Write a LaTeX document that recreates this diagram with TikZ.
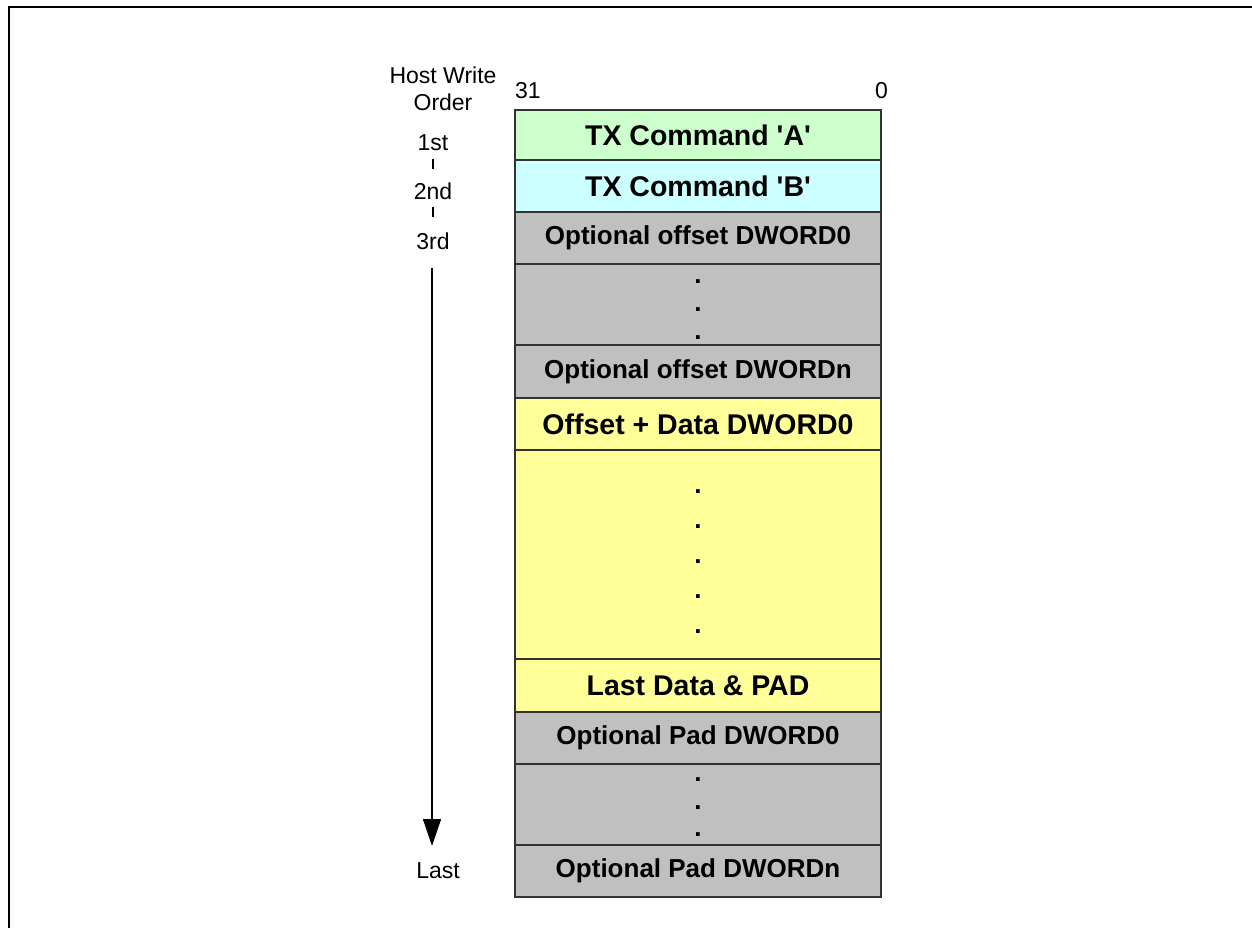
\documentclass[tikz,border=0pt]{standalone}
\usepackage{fontspec}
\setmainfont{Liberation Sans}
\usetikzlibrary{arrows.meta}
\definecolor{cmdA}{HTML}{CCFFCC}
\definecolor{cmdB}{HTML}{CCFFFF}
\definecolor{opt}{HTML}{C0C0C0}
\definecolor{data}{HTML}{FFFF99}
\tikzstyle{dword}=[draw=black!80, line width=1.5pt, minimum width=366pt, inner sep=0pt, font=\bfseries\fontsize{26}{30}\selectfont]
\tikzstyle{big}=[font=\bfseries\fontsize{28.5}{33}\selectfont]
\tikzstyle{order}=[anchor=base, inner sep=0pt, font=\fontsize{23}{27}\selectfont]
\tikzstyle{dot}=[anchor=base, inner sep=0pt, font=\bfseries\fontsize{26}{30}\selectfont]

\begin{document}
\begin{tikzpicture}[x=1pt, y=-1pt]
\useasboundingbox (0,0) rectangle (1252,928);
\draw[line width=2pt] (9,940) -- (9,7) -- (1260,7);

% the words, top to bottom
\node[dword, big, fill=cmdA, minimum height=50pt] (A) at (698, 135) {TX Command \textquotesingle A\textquotesingle};
\node[dword, big, fill=cmdB, minimum height=52pt] (B) at (698, 186) {TX Command \textquotesingle B\textquotesingle};
\node[dword, fill=opt, minimum height=52pt] (off0) at (698, 238) {Optional offset DWORD0};
\node[dword, fill=opt, minimum height=81pt] (offdots) at (698, 304.5) {};
\node[dword, fill=opt, minimum height=53pt] (offn) at (698, 371.5) {Optional offset DWORDn};
\node[dword, big, fill=data, minimum height=52pt] (data0) at (698, 424) {Offset + Data DWORD0};
\node[dword, fill=data, minimum height=209pt] (datadots) at (698, 554.5) {};
\node[dword, big, fill=data, minimum height=53pt] (last) at (698, 685.5) {Last Data \& PAD};
\node[dword, fill=opt, minimum height=52pt] (pad0) at (698, 738) {Optional Pad DWORD0};
\node[dword, fill=opt, minimum height=81pt] (paddots) at (698, 804.5) {};
\node[dword, fill=opt, minimum height=52pt] (padn) at (698, 871) {Optional Pad DWORDn};

% dots
\foreach \y in {283,311,339} \node[dot] (od\y) at (698, \y) {.};
\foreach \y in {493,528,563,598,633} \node[dot] (dd\y) at (698, \y) {.};
\foreach \y in {781,809,836} \node[dot] (pd\y) at (698, \y) {.};

% bit numbers
\node[order, anchor=base west] (msb) at (515, 99) {31};
\node[order, anchor=base east] (lsb) at (888, 99) {0};

% host write order
\node[order] (host) at (443, 84) {Host Write};
\node[order] (ordr) at (443, 111) {Order};
\node[order] (first) at (433, 151) {1st};
\node[order] (second) at (433, 200) {2nd};
\node[order] (third) at (433, 249) {3rd};
\node[order] (lastw) at (438, 878) {Last};
\coordinate (t1a) at (433, 159);
\coordinate (t1b) at (433, 169);
\coordinate (t2a) at (433, 207);
\coordinate (t2b) at (433, 217);
\coordinate (top) at (432, 268);
\coordinate (bot) at (432, 846);
\draw[line width=1.5pt] (t1a) -- (t1b);
\draw[line width=1.5pt] (t2a) -- (t2b);
\draw[line width=1.5pt, -{Triangle[length=27pt, width=18pt]}] (top) -- (bot);
\end{tikzpicture}
\end{document}
